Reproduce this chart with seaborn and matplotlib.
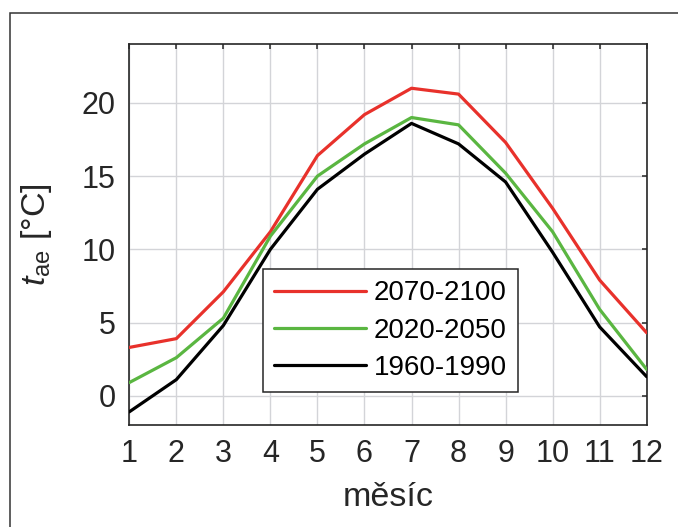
import numpy as np
import pandas as pd
import seaborn as sns
from matplotlib import pyplot as plt
from matplotlib.patches import Rectangle

#-------------------------- Data --------------------------
months = [1, 2, 3, 4, 5, 6, 7, 8, 9, 10, 11, 12]

t_2070_2100 = [3.3, 3.9, 7.1, 11.2, 16.4, 19.2, 21.0, 20.6, 17.3, 12.8, 7.9, 4.3]
t_2020_2050 = [0.9, 2.6, 5.3, 10.9, 15.0, 17.2, 19.0, 18.5, 15.2, 11.2, 5.9, 1.8]
t_1960_1990 = [-1.1, 1.1, 4.8, 10.0, 14.1, 16.5, 18.6, 17.2, 14.6, 9.8, 4.7, 1.3]

period_labels = ['2070-2100', '2020-2050', '1960-1990']
period_colors = ['#e8312b', '#5ab641', '#000000']

#-------------------------- Build long-form table -----------------------------
df = pd.DataFrame({
    'month': months * 3,
    'temp': t_2070_2100 + t_2020_2050 + t_1960_1990,
    'period': np.repeat(period_labels, len(months)),
})

#-------------------------- Style ---------------------------------------------
sns.set_style('white')
plt.rcParams['font.family'] = ['Liberation Sans', 'DejaVu Sans']
plt.rcParams['mathtext.fontset'] = 'custom'
plt.rcParams['mathtext.rm'] = 'Liberation Sans'
plt.rcParams['mathtext.it'] = 'Liberation Sans:italic'
dark = '#262626'

fig = plt.figure(figsize=(6.78, 5.27), dpi=100)
ax = fig.add_axes([0.1907, 0.1935, 0.7631, 0.7224])

sns.lineplot(data=df, x='month', y='temp', hue='period', hue_order=period_labels,
             palette=period_colors, linewidth=2.3, ax=ax, zorder=3)

ax.set_xlim(1, 12)
ax.set_ylim(-2, 24)
ax.set_xticks(months)
ax.set_yticks([0, 5, 10, 15, 20])

ax.grid(True, color='#d3d4d8', linewidth=1.0, zorder=0)
ax.set_axisbelow(True)
for sp in ax.spines.values():
    sp.set_color(dark)
    sp.set_linewidth(1.2)

ax.tick_params(direction='in', length=3.5, width=1.1, color=dark,
               top=True, right=True, labelsize=22, labelcolor=dark)
ax.tick_params(axis='x', pad=10)
ax.tick_params(axis='y', pad=10)

ax.set_xlabel('měsíc', fontsize=24.5, color=dark)
ax.set_ylabel('$t_{\\mathrm{ae}}$ [°C]', fontsize=24.5, color=dark)
ax.xaxis.set_label_coords(0.5, -0.15)
ax.yaxis.set_label_coords(-0.145, 0.5)

leg = ax.legend(loc='upper left', bbox_to_anchor=(0.258, 0.409), fontsize=20,
                frameon=True, fancybox=False, framealpha=1, handlelength=3.3,
                handletextpad=0.3, labelspacing=0.4, borderpad=0.4, borderaxespad=0)
leg.get_frame().set_edgecolor(dark)
leg.get_frame().set_linewidth(1.1)
for txt in leg.get_texts():
    txt.set_color('black')

# outer frame around the figure
fig.patches.append(Rectangle((9.5 / 678, -0.1), 2, 1 - 12.7 / 527 + 0.1,
                             transform=fig.transFigure, fill=False,
                             edgecolor='#333333', linewidth=1.1))

fig.savefig('out.png', dpi=100)
